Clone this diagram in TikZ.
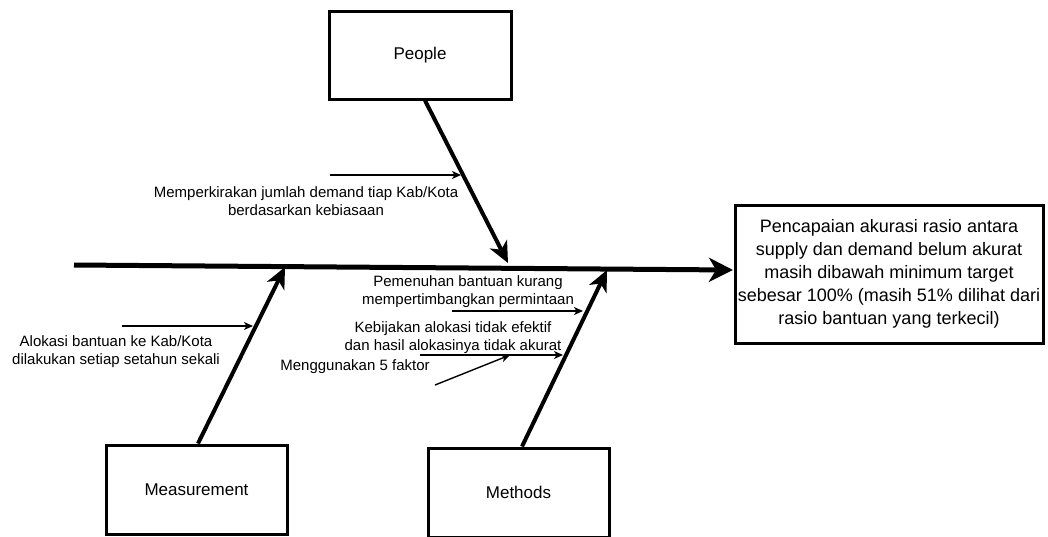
\documentclass[tikz,border=0pt]{standalone}
\usepackage{fontspec}
\setmainfont{Liberation Sans}
\usetikzlibrary{arrows.meta}
\begin{document}
\begin{tikzpicture}[x=1pt,y=-1pt,
 box/.style={draw,line width=3pt,inner sep=0pt,align=center,font=\fontsize{17}{20}\selectfont},
 lbl/.style={align=center,inner sep=0pt,font=\fontsize{15}{18}\selectfont},
 bone/.style={line width=4pt,-{Stealth[length=21pt,width=19pt,inset=6pt]}},
 spine/.style={line width=5pt,-{Stealth[length=24pt,width=24pt,inset=7pt]}},
 twig/.style={line width=1.4pt,-{Stealth[length=9pt,width=8pt,inset=2.5pt]}},
]
\useasboundingbox (0,0) rectangle (1048,536);

% boxes
\node[box,minimum width=182pt,minimum height=88pt] (pp) at (420,55) {People};
\node[box,minimum width=181pt,minimum height=89pt] (ms) at (196.5,489.5) {Measurement};
\node[box,minimum width=181pt,minimum height=89pt] (mt) at (518.5,492.5) {Methods};
\node[box,minimum width=308pt,minimum height=138pt,font=\fontsize{18}{23}\selectfont] (res) at (889,274)
 {Pencapaian akurasi rasio antara\\supply dan demand belum akurat\\masih dibawah minimum target\\sebesar 100\% (masih 51\% dilihat dari\\rasio bantuan yang terkecil)};

% spine
\coordinate (sL) at (74,265);
\coordinate (sR) at (733,270);
\draw[spine] (sL) -- (sR);

% bone tips
\coordinate (tP) at (508,263);
\coordinate (tM) at (285,267);
\coordinate (tMe) at (607,270);
\draw[bone] ([xshift=5pt]pp.south) -- (tP);
\draw[bone] ([xshift=1.5pt]ms.north) -- (tM);
\draw[bone] ([xshift=3.5pt]mt.north) -- (tMe);

% twigs
\coordinate (a1s) at (330,175); \coordinate (a1e) at (461,175);
\coordinate (a2s) at (122,326); \coordinate (a2e) at (253,326);
\coordinate (a3s) at (452,311); \coordinate (a3e) at (583,311);
\coordinate (a4s) at (420,355); \coordinate (a4e) at (563,355);
\coordinate (a5s) at (435,385); \coordinate (a5e) at (510,355);
\draw[twig] (a1s) -- (a1e);
\draw[twig] (a2s) -- (a2e);
\draw[twig] (a3s) -- (a3e);
\draw[twig] (a4s) -- (a4e);
\draw[twig] (a5s) -- (a5e);

% labels
\node[lbl] (l1) at (306,201) {Memperkirakan jumlah demand tiap Kab/Kota\\berdasarkan kebiasaan};
\node[lbl] (l2) at (116,352) {Alokasi bantuan ke Kab/Kota\\dilakukan setiap setahun sekali};
\node[lbl] (l3) at (468,292) {Pemenuhan bantuan kurang\\mempertimbangkan permintaan};
\node[lbl] (l4) at (453,338) {Kebijakan alokasi tidak efektif\\dan hasil alokasinya tidak akurat};
\node[lbl] (l5) at (355,367) {Menggunakan 5 faktor};
\end{tikzpicture}
\end{document}
